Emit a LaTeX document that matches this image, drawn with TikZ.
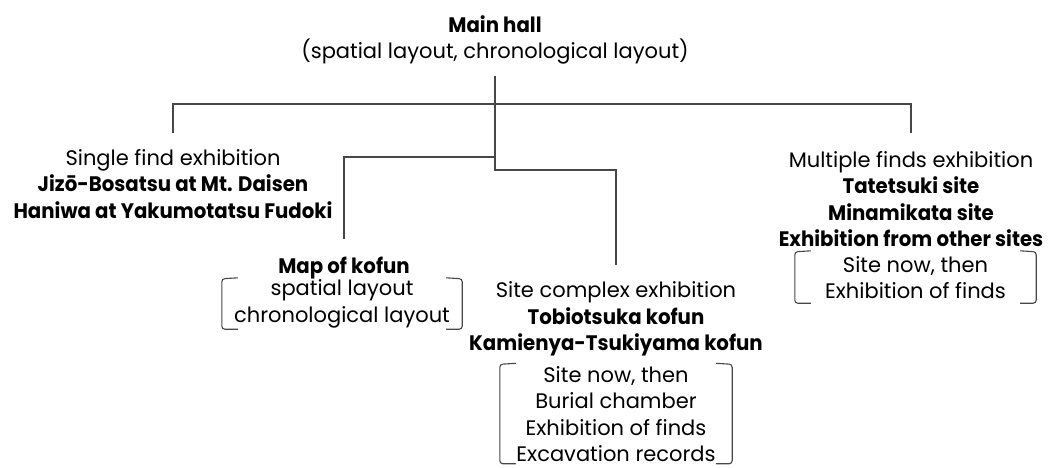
\documentclass[tikz,border=0pt]{standalone}
\usepackage{fontspec}
\setmainfont{Poppins}[BoldFeatures={FakeStretch=0.94}]
\begin{document}
\begin{tikzpicture}[x=1pt,y=-1pt,
  txt/.style={align=center, inner sep=0pt, font=\fontsize{21}{26.5}\selectfont},
  conn/.style={draw=black!72, line width=1.2pt},
  brk/.style={draw=black!72, line width=1.1pt, rounded corners=3pt},
  lst/.style={txt, minimum width=#1},
]
\newcommand\brkts[1]{%
  \draw[brk] ([xshift=16pt,yshift=1pt]#1.north west) -- (#1.north west) -- (#1.south west) -- ([xshift=16pt]#1.south west);
  \draw[brk] ([xshift=-16pt,yshift=1pt]#1.north east) -- (#1.north east) -- (#1.south east) -- ([xshift=-16pt]#1.south east);}
\useasboundingbox (0,0) rectangle (1049,467);

% titles
\node[txt] (main) at (495,40) {\textbf{Main hall}\\(spatial layout, chronological layout)};
\node[txt] (single) at (173,184) {Single find exhibition\\\textbf{Jizō-Bosatsu at Mt. Daisen}\\\textbf{Haniwa at Yakumotatsu Fudoki}};
\node[txt] (map) at (344,268) {\textbf{Map of kofun}};
\node[txt] (site) at (616,319) {Site complex exhibition\\\textbf{Tobiotsuka kofun}\\\textbf{Kamienya-Tsukiyama kofun}};
\node[txt] (multi) at (911,199) {Multiple finds exhibition\\\textbf{Tatetsuki site}\\\textbf{Minamikata site}\\\textbf{Exhibition from other sites}};

% bracketed lists
\node[lst=240pt, minimum height=50pt] (maplist) at (342,304) {spatial layout\\chronological layout};
\node[lst=232pt, minimum height=99pt] (sitelist) at (616,414) {Site now, then\\Burial chamber\\Exhibition of finds\\Excavation records};
\node[lst=241pt, minimum height=51pt] (multilist) at (915.5,277.5) {Site now, then\\Exhibition of finds};
\brkts{maplist}
\brkts{sitelist}
\brkts{multilist}

% levels
\coordinate (yMain) at (0,76);
\coordinate (yTop) at (0,104);
\coordinate (yTopEnd) at (0,133);
\coordinate (yLeft) at (0,157);
\coordinate (yRight) at (0,170);
\coordinate (yMapEnd) at (0,239);
\coordinate (ySiteEnd) at (0,265);

% connectors
\draw[conn] (main.south |- yMain) -- (main.south |- yRight) -| (site.north |- ySiteEnd);
\draw[conn] (main.south |- yLeft) -| (map.north |- yMapEnd);
\draw[conn] (single.north |- yTopEnd) |- (multi.north |- yTop) -- (multi.north |- yTopEnd);
\end{tikzpicture}
\end{document}
